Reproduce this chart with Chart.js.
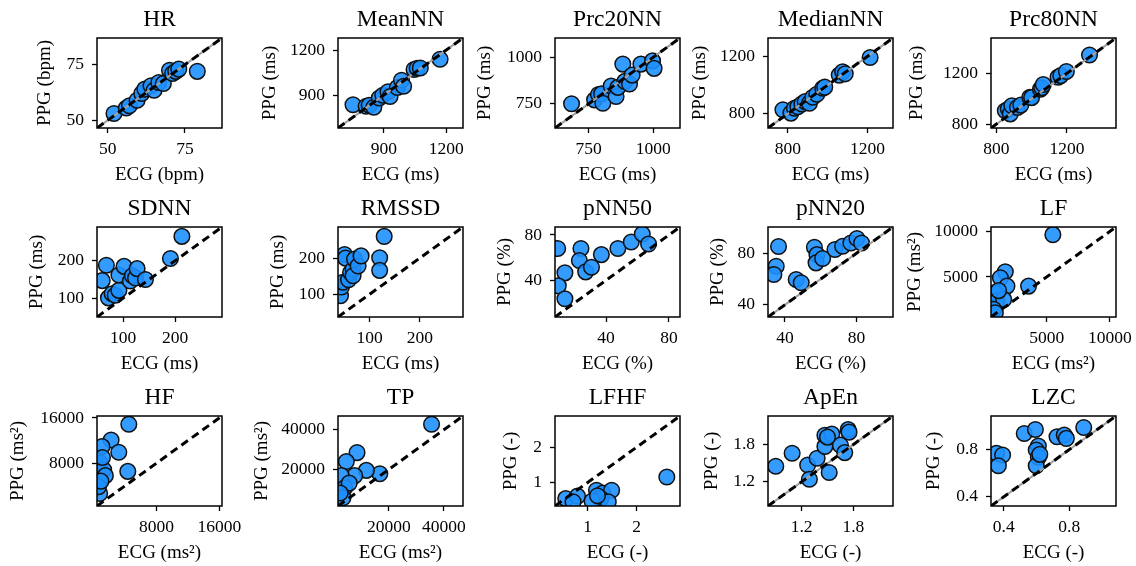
<!DOCTYPE html>
<html>
<head>
<meta charset="utf-8">
<script src="https://cdn.jsdelivr.net/npm/chart.js@4.4.1/dist/chart.umd.min.js"></script>
<style>
  html, body { margin: 0; padding: 0; background: #fff; }
  #fig { position: relative; width: 1136px; height: 566px; overflow: hidden; background: #fff; }
  #fig canvas { position: absolute; }
</style>
</head>
<body>
<div id="fig"></div>
<script>
// ---- data: ECG vs PPG per HRV metric ----
const hrEcg = [52, 56, 57, 59.5, 61, 62, 64, 65, 66.5, 68, 70, 71, 72, 73, 79];
const hrPpg = [53, 55.5, 56.5, 59, 62, 64, 65.5, 63.5, 67, 66.5, 72.5, 71, 72, 73, 72];
const hrRange = [46.5, 87];
const hrTicks = [50, 75];

const meanEcg = [752, 815, 830, 852, 878, 895, 920, 930, 965, 985, 995, 1045, 1060, 1075, 1170];
const meanPpg = [835, 825, 832, 818, 880, 898, 922, 890, 950, 998, 958, 1070, 1078, 1080, 1138];
const meanRange = [680, 1280];
const meanTicks = [900, 1200];

const p20Ecg = [684, 773, 788, 800, 805, 837, 856, 863, 882, 890, 908, 918, 952, 997, 1003];
const p20Ppg = [750, 771, 800, 803, 753, 845, 789, 838, 963, 870, 856, 904, 963, 980, 940];
const p20Range = [620, 1103];
const p20Ticks = [750, 1000];

const medEcg = [775, 815, 833, 850, 870, 887, 908, 925, 945, 975, 985, 1058, 1075, 1088, 1213];
const medPpg = [827, 804, 838, 848, 868, 884, 873, 915, 935, 977, 985, 1069, 1092, 1078, 1192];
const medRange = [700, 1328];
const medTicks = [800, 1200];

const p80Ecg = [851, 868, 879, 888, 920, 939, 990, 1000, 1050, 1057, 1066, 1150, 1165, 1197, 1328];
const p80Ppg = [906, 920, 881, 945, 932, 950, 1012, 1009, 1075, 1087, 1112, 1170, 1182, 1215, 1344];
const p80Range = [770, 1478];
const p80Ticks = [800, 1200];

const sdnnEcg = [60, 68, 72, 79, 85, 92, 92, 102, 114, 118, 124, 127, 143, 191, 213];
const sdnnPpg = [147, 188, 101, 112, 108, 121, 162, 185, 146, 160, 154, 179, 150, 206, 265];
const sdnnRange = [50, 290];
const sdnnTicks = [100, 200];

const rmssdEcg = [42, 44, 47, 50, 52, 58, 62, 67, 67, 70, 77, 83, 120, 120, 129];
const rmssdPpg = [96, 120, 133, 210, 200, 140, 160, 169, 151, 197, 178, 206, 201, 166, 260];
const rmssdRange = [37, 286];
const rmssdTicks = [100, 200];

const pnn50Ecg = [9.2, 13.8, 9.6, 13.8, 24, 23, 27, 30.7, 37, 47.5, 56, 63, 67];
const pnn50Ppg = [68, 46.5, 35, 23.6, 68, 57.4, 47.4, 51.5, 62.6, 68, 73.8, 80.8, 72];
const pnn50Range = [7.5, 87];
const pnn50Ticks = [40, 80];

const pnn20Ecg = [36.4, 35.1, 33.8, 46.3, 49.1, 56.5, 57.9, 57.4, 61.1, 68, 72.3, 76.9, 80.3, 82.9];
const pnn20Ppg = [85.3, 70, 63.6, 59.7, 57.1, 84.7, 79, 72.6, 76, 83, 85.5, 88.1, 91.5, 88.1];
const pnn20Range = [30.5, 100.5];
const pnn20Ticks = [40, 80];

const lfEcg = [5490, 3570, 1730, 1340, 1860, 940, 1070, 1600, 810, 940, 1200];
const lfPpg = [9640, 3990, 5560, 4900, 3990, 3260, 2350, 2530, 1440, 1070, 3500];
const lfRange = [600, 10480];
const lfTicks = [5000, 10000];

const hfEcg = [4460, 2200, 3180, 4330, 1040, 830, 1250, 1470, 740, 600, 1100, 900];
const hfPpg = [14890, 12085, 9920, 6535, 10920, 8000, 6830, 5780, 2620, 3800, 9000, 4800];
const hfRange = [400, 16350];
const hfTicks = [8000, 16000];

const tpEcg = [35530, 16640, 11760, 8350, 4450, 7500, 2620, 3840, 3230, 5500, 2200];
const tpPpg = [42825, 17775, 19445, 28460, 23950, 16770, 16770, 10600, 5580, 13000, 8000];
const tpRange = [1400, 47000];
const tpTicks = [20000, 40000];

const lfhfEcg = [2.62, 0.55, 0.79, 0.7, 1.18, 1.31, 1.49, 1.27, 1.09, 1.42, 1.2];
const lfhfPpg = [1.155, 0.54, 0.61, 0.45, 0.78, 0.7, 0.78, 0.54, 0.47, 0.45, 0.62];
const lfhfRange = [0.33, 2.89];
const lfhfTicks = [1, 2];

const apenEcg = [0.9, 1.09, 1.27, 1.29, 1.38, 1.47, 1.47, 1.52, 1.55, 1.65, 1.7, 1.74, 1.75, 1.5];
const apenPpg = [1.45, 1.66, 1.47, 1.24, 1.58, 1.77, 1.95, 1.35, 1.97, 1.79, 1.67, 2.04, 2.0, 1.92];
const apenRange = [0.81, 2.26];
const apenTicks = [1.2, 1.8];

const lzcEcg = [0.356, 0.393, 0.367, 0.525, 0.593, 0.611, 0.598, 0.611, 0.598, 0.62, 0.725, 0.769, 0.782, 0.888];
const lzcPpg = [0.769, 0.755, 0.663, 0.937, 0.97, 0.831, 0.797, 0.736, 0.663, 0.76, 0.909, 0.923, 0.895, 0.987];
const lzcRange = [0.322, 1.085];
const lzcTicks = [0.4, 0.8];

// ---- panels (grey = light solid identity line under the dashes) ----
const panels = [
    { title: 'HR', unit: 'bpm', ecg: hrEcg, ppg: hrPpg, range: hrRange, ticks: hrTicks, grey: true, yOff: 52 },
    { title: 'MeanNN', unit: 'ms', ecg: meanEcg, ppg: meanPpg, range: meanRange, ticks: meanTicks, grey: true, yOff: 68 },
    { title: 'Prc20NN', unit: 'ms', ecg: p20Ecg, ppg: p20Ppg, range: p20Range, ticks: p20Ticks, grey: true, yOff: 70 },
    { title: 'MedianNN', unit: 'ms', ecg: medEcg, ppg: medPpg, range: medRange, ticks: medTicks, grey: true, yOff: 68 },
    { title: 'Prc80NN', unit: 'ms', ecg: p80Ecg, ppg: p80Ppg, range: p80Range, ticks: p80Ticks, grey: true, yOff: 74 },
    { title: 'SDNN', unit: 'ms', ecg: sdnnEcg, ppg: sdnnPpg, range: sdnnRange, ticks: sdnnTicks, grey: false, yOff: 60 },
    { title: 'RMSSD', unit: 'ms', ecg: rmssdEcg, ppg: rmssdPpg, range: rmssdRange, ticks: rmssdTicks, grey: false, yOff: 60 },
    { title: 'pNN50', unit: '%', ecg: pnn50Ecg, ppg: pnn50Ppg, range: pnn50Range, ticks: pnn50Ticks, grey: false, yOff: 50 },
    { title: 'pNN20', unit: '%', ecg: pnn20Ecg, ppg: pnn20Ppg, range: pnn20Range, ticks: pnn20Ticks, grey: true, yOff: 50 },
    { title: 'LF', unit: 'ms²', ecg: lfEcg, ppg: lfPpg, range: lfRange, ticks: lfTicks, grey: false, yOff: 76 },
    { title: 'HF', unit: 'ms²', ecg: hfEcg, ppg: hfPpg, range: hfRange, ticks: hfTicks, grey: false, yOff: 79 },
    { title: 'TP', unit: 'ms²', ecg: tpEcg, ppg: tpPpg, range: tpRange, ticks: tpTicks, grey: false, yOff: 76 },
    { title: 'LFHF', unit: '-', ecg: lfhfEcg, ppg: lfhfPpg, range: lfhfRange, ticks: lfhfTicks, grey: false, yOff: 44 },
    { title: 'ApEn', unit: '-', ecg: apenEcg, ppg: apenPpg, range: apenRange, ticks: apenTicks, grey: true, yOff: 56 },
    { title: 'LZC', unit: '-', ecg: lzcEcg, ppg: lzcPpg, range: lzcRange, ticks: lzcTicks, grey: true, yOff: 57 }
];

// ---- layout ----
const FONT = '"Liberation Serif", "Times New Roman", serif';
const colLeft = [97, 338, 555, 768, 991];
const rowTop = [38, 227, 416];
const BOX_W = 125, BOX_H = 90;
const Y_W = 95, TOP_H = 32, X_H = 60, RIGHT_PAD = 40;

Chart.defaults.font.family = FONT;
Chart.defaults.color = '#000';

// full box around plot area
const framePlugin = {
    id: 'frame',
    afterDraw(chart) {
        const a = chart.chartArea;
        const ctx = chart.ctx;
        ctx.save();
        ctx.strokeStyle = '#000';
        ctx.lineWidth = 1.5;
        ctx.strokeRect(a.left, a.top, a.right - a.left, a.bottom - a.top);
        ctx.restore();
    }
};

function makeAxis(p, isX) {
    return {
        type: 'linear',
        min: p.range[0],
        max: p.range[1],
        afterBuildTicks: s => { s.ticks = p.ticks.map(v => ({ value: v })); },
        afterFit: s => { if (isX) s.height = X_H; else s.width = Y_W; },
        grid: { drawOnChartArea: false, drawTicks: true, tickLength: 5, tickWidth: 1.3, tickColor: '#000' },
        border: { display: false },
        ticks: {
            padding: isX ? 6 : 8,
            color: '#000',
            font: { family: FONT, size: 17.5 },
            callback: v => String(v)
        },
        title: {
            display: true,
            text: (isX ? 'ECG' : 'PPG') + ' (' + p.unit + ')',
            color: '#000',
            font: { family: FONT, size: 19 },
            padding: isX ? { top: 0, bottom: 1.6 } : { top: Y_W - 11.4 - p.yOff, bottom: 0 }
        }
    };
}

const fig = document.getElementById('fig');

panels.forEach((p, i) => {
    const row = Math.floor(i / 5);
    const col = i % 5;
    const canvas = document.createElement('canvas');
    canvas.width = Y_W + BOX_W + RIGHT_PAD;
    canvas.height = TOP_H + BOX_H + X_H;
    canvas.style.width = canvas.width + 'px';
    canvas.style.height = canvas.height + 'px';
    canvas.style.left = (colLeft[col] - Y_W) + 'px';
    canvas.style.top = (rowTop[row] - TOP_H) + 'px';
    fig.appendChild(canvas);

    const diag = [{ x: p.range[0], y: p.range[0] }, { x: p.range[1], y: p.range[1] }];
    const datasets = [{
        type: 'line',
        data: diag,
        showLine: true,
        borderColor: '#000',
        borderWidth: 3,
        borderDash: [8, 5],
        pointRadius: 0,
        clip: 0,
        order: 0
    }];
    if (p.grey) {
        datasets.push({
            type: 'line',
            data: diag,
            showLine: true,
            borderColor: '#a0a0a0',
            borderWidth: 2.2,
            pointRadius: 0,
            clip: 0,
            order: 1
        });
    }
    datasets.push({
        type: 'scatter',
        data: p.ecg.map((v, k) => ({ x: v, y: p.ppg[k] })),
        backgroundColor: 'rgba(30, 144, 255, 0.9)',
        borderColor: '#111',
        borderWidth: 1.5,
        pointRadius: 7.8,
        pointHoverRadius: 7.8,
        clip: 0,
        order: 2
    });

    new Chart(canvas, {
        type: 'scatter',
        data: { datasets: datasets },
        options: {
            responsive: false,
            animation: false,
            devicePixelRatio: 1,
            events: [],
            layout: { padding: { left: 0, top: 0, right: RIGHT_PAD, bottom: 0 } },
            plugins: {
                legend: { display: false },
                tooltip: { enabled: false },
                title: {
                    display: true,
                    fullSize: false,
                    align: 'center',
                    text: p.title,
                    color: '#000',
                    font: { family: FONT, size: 23.5, weight: 'normal' },
                    padding: { top: 0, bottom: TOP_H - 23.5 * 1.2 }
                }
            },
            scales: {
                x: makeAxis(p, true),
                y: makeAxis(p, false)
            }
        },
        plugins: [framePlugin]
    });
});
</script>
</body>
</html>
